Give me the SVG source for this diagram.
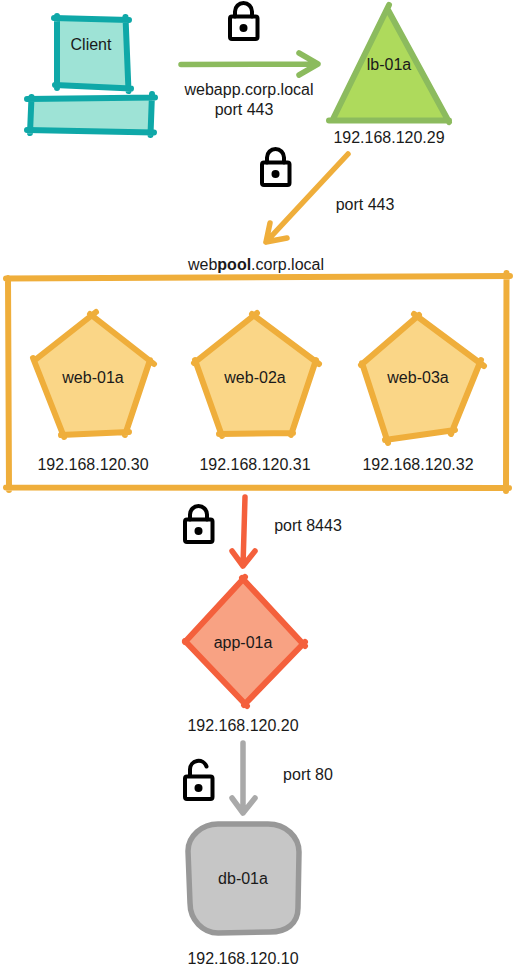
<svg xmlns="http://www.w3.org/2000/svg" width="513" height="973" viewBox="0 0 513 973">
<style>
text{font-family:"Liberation Sans",Arial,sans-serif;font-size:16px;fill:#1a1a1a;text-anchor:middle}
.s{fill:none;stroke-width:6;stroke-linecap:round;stroke-linejoin:round}
.a{fill:none;stroke-width:5.500;stroke-linecap:round;stroke-linejoin:round}
.teal{stroke:#0fa8a8}.green{stroke:#8cbb5e}.orange{stroke:#efae3b}.red{stroke:#f4603c}.grey{stroke:#a9a9a9}
.lock{fill:none;stroke:#000;stroke-width:4;stroke-linejoin:round;stroke-linecap:round}
</style>
<defs>
<g id="body"><rect x="2" y="15.500" width="27.500" height="22.500" rx="2" class="lock"/><circle cx="15.500" cy="27" r="4"/></g>
<g id="lock-closed"><use href="#body"/><path d="M7 15.500V10.500a8.500 8.500 0 0 1 17 0V15.500" class="lock"/></g>
<g id="lock-open"><use href="#body"/><path d="M7 14V8.500a8.500 8.500 0 0 1 16.500-3" class="lock"/></g>
</defs>
<g id="client">
<path d="M57 18L126 20L128 88L57 85Z" fill="#9ee3d6"/>
<path d="M54 18L129 20M125.500 17L128.500 91M131 88.500L55 85M57 16V88" class="s teal"/>
<text x="91" y="50">Client</text>
</g>
<g id="client-base">
<path d="M30 99L152 97.500L151 132L30 130Z" fill="#9ee3d6"/>
<path d="M27 99L155 97.500M152 94L150.500 135M154 132.500L27 130M31.500 97L30 133" class="s teal"/>
</g>
<g id="lb-01a">
<path d="M389 10L449 120L331 120Z" fill="#aeda5c"/>
<path d="M389 5L333 119M387.500 9L449 122M329 120.500H449" class="s green"/>
<text x="389" y="70">lb-01a</text>
<text x="389" y="143">192.168.120.29</text>
</g>
<g id="webpool">
<path d="M6 278.500L510 276M8 278L9 490M6 487.500L509 488M506.500 273L506 491" class="s orange"/>
<text x="256" y="270">web<tspan font-weight="bold">pool</tspan>.corp.local</text>
</g>
<g id="web-01a">
<path d="M93 316L152 362L126 432L63 435L35 362Z" fill="#fad687"/>
<path d="M96 312L35 360M90 314L154 364M150 360L125 435M129 432L61 435M64 437L33 358" class="s orange"/>
<text x="93" y="383">web-01a</text>
<text x="93" y="470">192.168.120.30</text>
</g>
<g id="web-02a">
<path d="M255 316L317 362L291 433L221 434L196 362Z" fill="#fad687"/>
<path d="M257 313L194 363M252 314L319 364M316 360L291 435M293 433L219 434M222 436L195 360" class="s orange"/>
<text x="255" y="383">web-02a</text>
<text x="255" y="470">192.168.120.31</text>
</g>
<g id="web-03a">
<path d="M417 317L481 364L453 431L387 439L362 364Z" fill="#fad687"/>
<path d="M419 315L361 365M414 314L484 366M481 360L451 434M455 430L385 440M388 443L362 363" class="s orange"/>
<text x="418" y="383">web-03a</text>
<text x="418" y="470">192.168.120.32</text>
</g>
<g id="app-01a">
<path d="M243 580L303 644L245 703L186 642Z" fill="#f8a283"/>
<path d="M242 578L305 646M245 577L185 642M305 642L244 705M247 706L185 641" class="s red"/>
<text x="243" y="648">app-01a</text>
<text x="243" y="731">192.168.120.20</text>
</g>
<g id="db-01a">
<path d="M218 824H268C286 824 299 837 299 852L298 908C298 924 286 932 270 932L218 933C203 933 190 920 190 903L188 851C188 836 202 824 218 824Z" fill="#c6c6c6" stroke="#989898" stroke-width="5.500"/>
<text x="243" y="884">db-01a</text>
<text x="243" y="964">192.168.120.10</text>
</g>
<g id="connectors">
<path d="M181 64.500L318 64M299 53L318 64L299 75" class="a green"/>
<path d="M348 154L266 242M270 223L266 242L287 238" class="a orange"/>
<path d="M245 497L243 566M232 551L243 566L255 551" class="a red"/>
<path d="M243 743L243 813M232 798L243 813L255 798" class="a grey"/>
</g>
<g id="labels">
<text x="249" y="95">webapp.corp.local</text>
<text x="244" y="115">port 443</text>
<text x="365" y="210">port 443</text>
<text x="308" y="531">port 8443</text>
<text x="308" y="780">port 80</text>
</g>
<g id="locks">
<use href="#lock-closed" x="228" y="1"/>
<use href="#lock-closed" x="260" y="147"/>
<use href="#lock-closed" x="183" y="504"/>
<use href="#lock-open" x="183" y="761"/>
</g>
</svg>
